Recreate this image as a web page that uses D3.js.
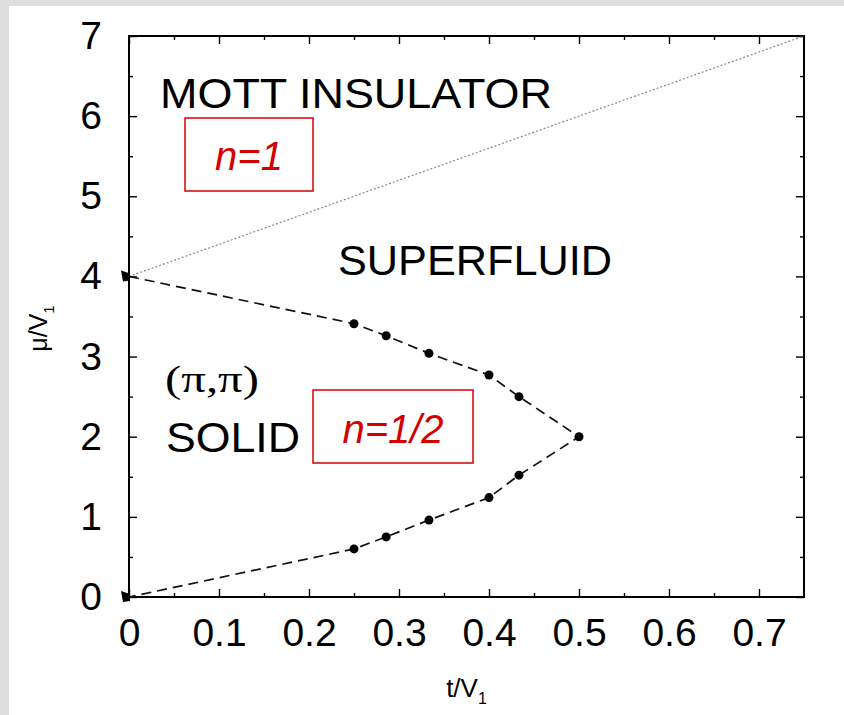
<!DOCTYPE html>
<html>
<head>
<meta charset="utf-8">
<script src="https://cdn.jsdelivr.net/npm/d3@7"></script>
<style>
  body { margin: 0; background: #dedede; }
  svg { display: block; }
</style>
</head>
<body>
<div id="chart"></div>
<script>
// Phase diagram: Mott insulator / superfluid / (pi,pi) solid

// boundary of the solid lobe (t/V1, mu/V1)
const lobeT  = [0, 0.25, 0.2857, 0.3333, 0.4, 0.4333, 0.5, 0.4333, 0.4, 0.3333, 0.2857, 0.25, 0];
const lobeMu = [4, 3.41, 3.26, 3.04, 2.77, 2.50, 2.0, 1.52, 1.24, 0.96, 0.75, 0.60, 0];
// Mott insulator boundary
const mottT  = [0, 0.75];
const mottMu = [4, 7];
// ticks
const xTicks = [0, 0.1, 0.2, 0.3, 0.4, 0.5, 0.6, 0.7];
const xMinor = [0.05, 0.15, 0.25, 0.35, 0.45, 0.55, 0.65];
const yTicks = [0, 1, 2, 3, 4, 5, 6, 7];
const yMinor = [0.5, 1.5, 2.5, 3.5, 4.5, 5.5, 6.5];

const W = 844, H = 715;
const margin = { top: 36, right: 40, bottom: 118, left: 129 };
const width = W - margin.left - margin.right;
const height = H - margin.top - margin.bottom;

const root = d3.select("#chart").append("svg")
    .attr("width", W)
    .attr("height", H);

root.append("rect")
    .attr("x", 9).attr("y", 6)
    .attr("width", W - 9).attr("height", H - 6)
    .attr("fill", "#fff");

const svg = root.append("g")
    .attr("transform", `translate(${margin.left},${margin.top})`);

const x = d3.scaleLinear().domain([0, 0.75]).range([0, width]);
const y = d3.scaleLinear().domain([0, 7]).range([height, 0]);

const tickFont = "'Liberation Sans', Arial, sans-serif";

function styleAxis(g) {
    g.select(".domain").remove();
    g.selectAll(".tick line").attr("stroke", "#000").attr("stroke-width", 1.4);
    g.selectAll("text").style("font-family", tickFont).style("font-size", "39px").attr("fill", "#000");
}

// major ticks with labels
svg.append("g")
    .attr("transform", `translate(0,${height})`)
    .call(d3.axisBottom(x).tickValues(xTicks).tickSize(-8).tickPadding(21).tickFormat(d3.format("")))
    .call(styleAxis);
svg.append("g")
    .call(d3.axisLeft(y).tickValues(yTicks).tickSize(-8).tickPadding(27).tickFormat(d3.format("d")))
    .call(styleAxis);
// mirrored major ticks
svg.append("g")
    .call(d3.axisTop(x).tickValues(xTicks).tickSize(-8).tickFormat(""))
    .call(styleAxis);
svg.append("g")
    .attr("transform", `translate(${width},0)`)
    .call(d3.axisRight(y).tickValues(yTicks).tickSize(-8).tickFormat(""))
    .call(styleAxis);
// minor ticks
svg.append("g")
    .attr("transform", `translate(0,${height})`)
    .call(d3.axisBottom(x).tickValues(xMinor).tickSize(-4).tickFormat(""))
    .call(styleAxis);
svg.append("g")
    .call(d3.axisTop(x).tickValues(xMinor).tickSize(-4).tickFormat(""))
    .call(styleAxis);
svg.append("g")
    .call(d3.axisLeft(y).tickValues(yMinor).tickSize(-4).tickFormat(""))
    .call(styleAxis);
svg.append("g")
    .attr("transform", `translate(${width},0)`)
    .call(d3.axisRight(y).tickValues(yMinor).tickSize(-4).tickFormat(""))
    .call(styleAxis);

// frame
svg.append("rect")
    .attr("width", width).attr("height", height)
    .attr("fill", "none")
    .attr("stroke", "#000")
    .attr("stroke-width", 2);

// Mott line (dotted)
const mottData = mottT.map((t, i) => ({ t: t, mu: mottMu[i] }));
const line = d3.line().x(d => x(d.t)).y(d => y(d.mu));
svg.append("path")
    .datum(mottData)
    .attr("d", line)
    .attr("fill", "none")
    .attr("stroke", "#888")
    .attr("stroke-width", 1.2)
    .attr("stroke-dasharray", "2,2");

// solid lobe (dashed with points)
const lobeData = lobeT.map((t, i) => ({ t: t, mu: lobeMu[i] }));
svg.append("path")
    .datum(lobeData)
    .attr("d", line)
    .attr("fill", "none")
    .attr("stroke", "#111")
    .attr("stroke-width", 1.7)
    .attr("stroke-dasharray", "10,6");

svg.selectAll("circle.pt")
    .data(lobeData.filter(d => d.t > 0))
    .enter()
    .append("circle")
    .attr("class", "pt")
    .attr("cx", d => x(d.t))
    .attr("cy", d => y(d.mu))
    .attr("r", 4.5)
    .attr("fill", "#000");

// points sitting on the axis are drawn half outside
svg.selectAll("path.edge")
    .data(lobeData.filter(d => d.t === 0))
    .enter()
    .append("path")
    .attr("class", "edge")
    .attr("d", d => {
        const px = x(d.t), py = y(d.mu);
        return `M${px - 8},${py - 6} L${px + 1},${py - 3} L${px + 1},${py + 4} L${px - 6},${py + 5} Z`;
    })
    .attr("fill", "#000");

// region labels
const labelFont = "'Liberation Sans', Arial, sans-serif";
function label(tx, ty, str, size, len, family) {
    return svg.append("text")
        .attr("x", tx - margin.left)
        .attr("y", ty - margin.top)
        .attr("textLength", len)
        .attr("lengthAdjust", "spacingAndGlyphs")
        .style("font-family", family || labelFont)
        .style("font-size", size + "px")
        .attr("fill", "#000")
        .text(str);
}
label(160, 108, "MOTT INSULATOR", 42, 392);
label(338, 275, "SUPERFLUID", 42, 274);
label(166, 452, "SOLID", 42, 134);
label(165, 392, "(\u03c0,\u03c0)", 38, 94, "'Liberation Serif', 'Times New Roman', serif");

// red density boxes
const red = "#d40000";
function box(bx, by, bw, bh, str, ty) {
    svg.append("rect")
        .attr("x", bx - margin.left).attr("y", by - margin.top)
        .attr("width", bw).attr("height", bh)
        .attr("fill", "#fff")
        .attr("stroke", red)
        .attr("stroke-width", 1.5);
    svg.append("text")
        .attr("x", bx + bw / 2 - margin.left)
        .attr("y", ty - margin.top)
        .attr("text-anchor", "middle")
        .style("font-family", labelFont)
        .style("font-size", "40px")
        .style("font-style", "italic")
        .attr("fill", red)
        .text(str);
}
box(185, 118, 128, 73, "n=1", 170);
box(313, 390, 160, 73, "n=1/2", 443);

// axis titles
const xt = svg.append("text")
    .attr("x", width / 2)
    .attr("y", 697 - margin.top)
    .attr("text-anchor", "middle")
    .style("font-family", labelFont)
    .style("font-size", "26px");
xt.append("tspan").text("t/V");
xt.append("tspan").attr("dy", 7).style("font-size", "16px").text("1");

const yt = svg.append("text")
    .attr("transform", `translate(${47 - margin.left},${height / 2 + 12}) rotate(-90)`)
    .attr("text-anchor", "middle")
    .style("font-family", labelFont)
    .style("font-size", "25px");
yt.append("tspan").text("\u03bc/V");
yt.append("tspan").attr("dy", 7).style("font-size", "15px").text("1");
</script>
</body>
</html>
